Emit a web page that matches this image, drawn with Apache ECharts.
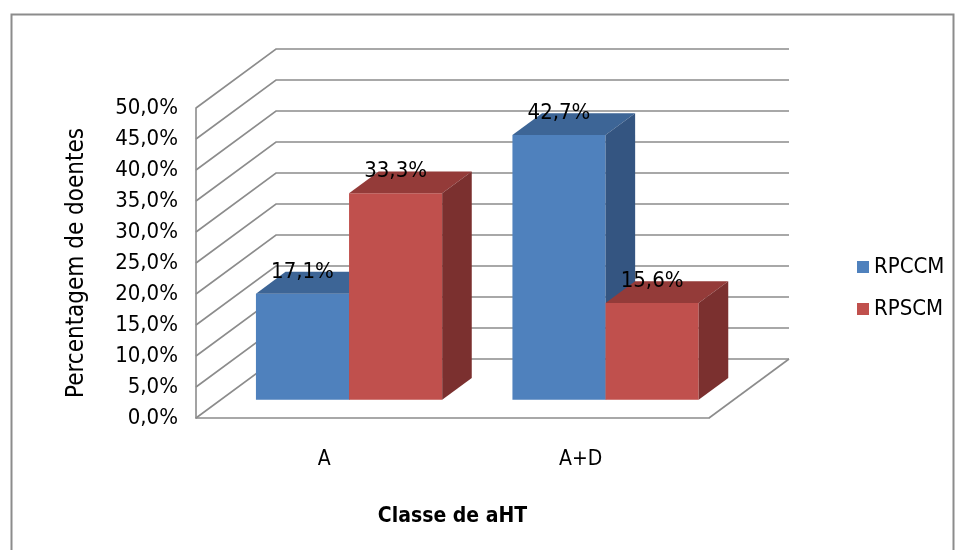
<!DOCTYPE html>
<html>
<head>
<meta charset="utf-8">
<script src="https://cdn.jsdelivr.net/npm/echarts@6/dist/echarts.min.js"></script>
<style>
  html, body { margin: 0; padding: 0; background: #fff; }
  #chart { width: 957px; height: 550px; }
</style>
</head>
<body>
<div id="chart"></div>
<script>
// Dados do gráfico
const categorias = ['A', 'A+D'];
const rpccm = [17.1, 42.7];
const rpscm = [33.3, 15.6];
const escalaY = [0, 5, 10, 15, 20, 25, 30, 35, 40, 45, 50];

// Perspectiva oblíqua: deslocamento da profundidade total do chão
const PROF_X = 80, PROF_Y = -59;
const FRENTE = 0.31;   // profundidade da face frontal das colunas (fração)
const FUNDO = 0.37;    // espessura das colunas (fração)
const LARG = 0.363;    // largura de cada coluna em fração da categoria
const COR_GRADE = '#8c8c8c';
const FONTE = '"DejaVu Sans Condensed", "DejaVu Sans", sans-serif';

function fmt(v) { return v.toFixed(1).replace('.', ',') + '%'; }

function coluna(ordem, cores) {
  return function (params, api) {
    const cat = api.value(0), v = api.value(1);
    const base = api.coord([cat, 0]);
    const topo = api.coord([cat, v]);
    const w = api.size([1, 0])[0] * LARG;
    const sx = PROF_X * FRENTE, sy = PROF_Y * FRENTE;
    const dx = PROF_X * FUNDO, dy = PROF_Y * FUNDO;
    const xL = base[0] + sx + (ordem - 1) * w, xR = xL + w;
    const yB = base[1] + sy, yT = topo[1] + sy;
    return {
      type: 'group',
      children: [
        { type: 'polygon', shape: { points: [[xL, yB], [xR, yB], [xR, yT], [xL, yT]] }, style: { fill: cores[0] } },
        { type: 'polygon', shape: { points: [[xL, yT], [xR, yT], [xR + dx, yT + dy], [xL + dx, yT + dy]] }, style: { fill: cores[1] } },
        { type: 'polygon', shape: { points: [[xR, yT], [xR + dx, yT + dy], [xR + dx, yB + dy], [xR, yB]] }, style: { fill: cores[2] } },
        { type: 'text', x: (xL + xR) / 2, y: yT + dy, z2: 10,
          style: { text: fmt(v), fill: '#000', font: '22px ' + FONTE, align: 'center', verticalAlign: 'middle' } }
      ]
    };
  };
}

function grade(params, api) {
  const cs = params.coordSys;
  const v = api.value(1);
  const y = api.coord([0, v])[1];
  const x0 = cs.x, x1 = cs.x + cs.width;
  const estilo = { stroke: COR_GRADE, lineWidth: 1.6, fill: null };
  const filhos = [
    { type: 'polyline', shape: { points: [[x0, y], [x0 + PROF_X, y + PROF_Y], [x1 + PROF_X, y + PROF_Y]] }, style: estilo }
  ];
  if (v === 0) {
    filhos.push({ type: 'line', shape: { x1: x1, y1: y, x2: x1 + PROF_X, y2: y + PROF_Y }, style: estilo });
  }
  return { type: 'group', children: filhos };
}

const chart = echarts.init(document.getElementById('chart'));
chart.setOption({
  backgroundColor: '#fff',
  animation: false,
  textStyle: { fontFamily: FONTE },
  graphic: [{
    type: 'rect', left: 9, top: 12, z: 100,
    shape: { width: 942, height: 560 },
    style: { fill: null, stroke: COR_GRADE, lineWidth: 2 }
  }],
  grid: { left: 196, right: 248, top: 108, bottom: 132 },
  legend: {
    data: ['RPCCM', 'RPSCM'],
    orient: 'vertical', left: 852, top: 251,
    icon: 'rect', itemWidth: 12, itemHeight: 12, itemGap: 20,
    textStyle: { fontSize: 22, color: '#000', lineHeight: 22, fontFamily: FONTE }
  },
  xAxis: {
    type: 'category', data: categorias,
    axisLine: { show: true, lineStyle: { color: COR_GRADE, width: 1.6 } },
    axisTick: { show: false },
    axisLabel: { margin: 31, fontSize: 21, color: '#000', fontFamily: FONTE },
    name: 'Classe de aHT', nameLocation: 'middle', nameGap: 88,
    nameTextStyle: { fontSize: 21, fontWeight: 'bold', color: '#000', fontFamily: FONTE }
  },
  yAxis: {
    type: 'value', min: 0, max: 50, interval: 5,
    splitLine: { show: false },
    axisLine: { show: true, lineStyle: { color: COR_GRADE, width: 1.6 } },
    axisTick: { show: false },
    axisLabel: { formatter: fmt, margin: 18, fontSize: 22, color: '#000', fontFamily: FONTE },
    name: 'Percentagem de doentes', nameLocation: 'middle', nameGap: 107,
    nameTextStyle: { fontSize: 24, color: '#000', fontFamily: FONTE }
  },
  series: [
    { name: 'grade', type: 'custom', silent: true, z: 1,
      data: escalaY.map(v => [0, v]), encode: { x: 0, y: 1 }, renderItem: grade },
    { name: 'RPCCM', type: 'custom', z: 2, itemStyle: { color: '#4F81BD' },
      data: rpccm.map((v, i) => [i, v]), encode: { x: 0, y: 1 },
      renderItem: coluna(0, ['#4F81BD', '#3D6596', '#345581']) },
    { name: 'RPSCM', type: 'custom', z: 3, itemStyle: { color: '#C0504D' },
      data: rpscm.map((v, i) => [i, v]), encode: { x: 0, y: 1 },
      renderItem: coluna(1, ['#C0504D', '#943B39', '#7B302F']) }
  ]
});
</script>
</body>
</html>
